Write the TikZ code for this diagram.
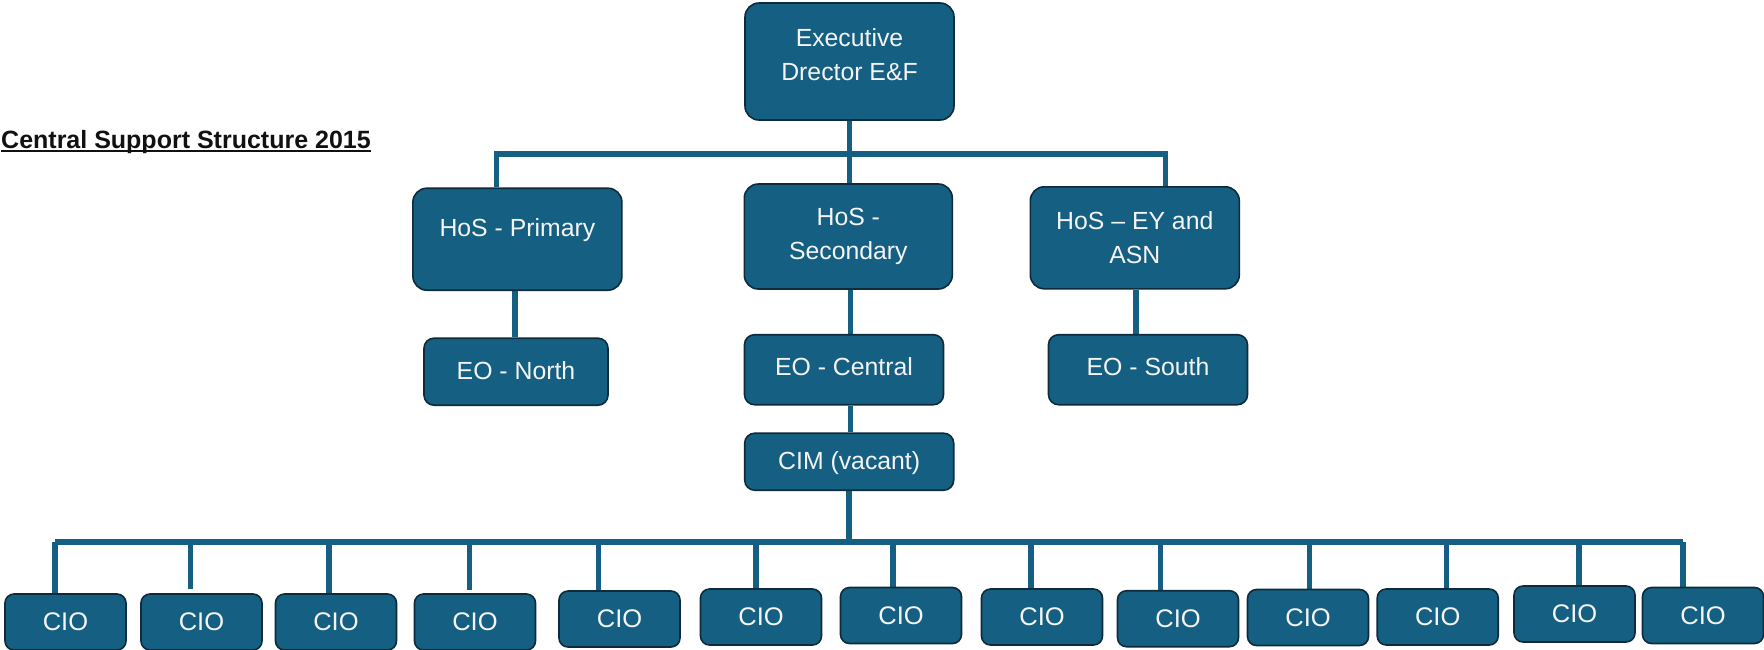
\documentclass[tikz,border=0pt]{standalone}
\usepackage{fontspec}
\setmainfont{Liberation Sans}
\usetikzlibrary{backgrounds}
\definecolor{accent}{HTML}{156082}
\definecolor{edge}{HTML}{0D2B3B}
\definecolor{paper}{HTML}{F4F4F4}
\definecolor{titleink}{HTML}{111111}
\begin{document}
\begin{tikzpicture}[x=1pt,y=-1pt,
  orgbox/.style={draw=edge, line width=1.6pt, fill=accent, rounded corners=14pt, inner sep=0pt},
  smallbox/.style={orgbox, rounded corners=10pt},
  ciobox/.style={orgbox, rounded corners=9pt, minimum width=121pt, minimum height=56pt,
    text=paper, font=\fontsize{25.5}{30}\selectfont},
  boxtext/.style={text=paper, inner sep=0pt, align=center,
    font=\fontsize{24.8}{34.5}\selectfont},
  link/.style={draw=accent, line width=5.5pt}
]
\useasboundingbox (0,0) rectangle (1764,649);

% heading
\node[anchor=base west, inner sep=0pt, text=titleink,
      font=\bfseries\fontsize{25}{30}\selectfont] (title) at (1,148.5)
      {Central Support Structure 2015};
\draw[titleink, line width=2.2pt] ([yshift=-2.8pt]title.base west) -- ([yshift=-2.8pt]title.base east);

% top level
\node[orgbox, minimum width=209pt, minimum height=117pt] (exec) at (849.5,61.5) {};
\node[boxtext] (exec-t) at ([yshift=7pt]exec.center) {Executive\\Drector E\&F};

% heads of service
\node[orgbox, minimum width=209pt, minimum height=102pt] (hosP) at (517.4,239.2) {};
\node[boxtext] (hosP-t) at ([yshift=9pt]hosP.center) {HoS - Primary};
\node[orgbox, minimum width=208pt, minimum height=105pt] (hosS) at (848.3,236.5) {};
\node[boxtext] (hosS-t) at (hosS.center) {HoS -\\Secondary};
\node[orgbox, minimum width=209pt, minimum height=102pt] (hosE) at (1134.8,237.8) {};
\node[boxtext] (hosE-t) at (hosE.center) {HoS – EY and\\ASN};

% education officers
\node[smallbox, minimum width=184pt, minimum height=67pt] (eoN) at (516,371.7) {};
\node[boxtext] (eoN-t) at ([yshift=1.5pt]eoN.center) {EO - North};
\node[smallbox, minimum width=199pt, minimum height=70pt] (eoC) at (844,369.7) {};
\node[boxtext] (eoC-t) at ([yshift=3pt]eoC.center) {EO - Central};
\node[smallbox, minimum width=199pt, minimum height=70pt] (eoS) at (1148,369.7) {};
\node[boxtext] (eoS-t) at ([yshift=3pt]eoS.center) {EO - South};

% manager
\node[smallbox, minimum width=209pt, minimum height=57pt] (cim) at (849.2,461.7) {};
\node[boxtext] (cim-t) at ([yshift=-1.5pt]cim.center) {CIM (vacant)};

% officers
\foreach \i/\cx/\cy in {1/65.5/622, 2/201.5/622, 3/336/622, 4/475/622,
    5/619.5/619, 6/761/617, 7/901/615.5, 8/1042/617, 9/1178/618.7,
    10/1308/617.5, 11/1437.7/617, 12/1574.5/614, 13/1703/615.5}
  \node[ciobox] (cio\i) at (\cx,\cy) {CIO};

% connectors
\coordinate (busA) at (0,154);
\coordinate (busB) at (0,542);
\begin{scope}[on background layer]
  \path ([xshift=-21pt]hosP.north) coordinate (pTop)
        ([xshift=30.5pt]hosE.north) coordinate (eTop);
  \draw[link] (pTop) -- (pTop |- busA) -- (eTop |- busA) -- (eTop);
  \draw[link] (exec.south) -- (exec.south |- hosS.north);
  \draw[link] ([xshift=-2.5pt]hosP.south) -- ([xshift=-2.5pt]hosP.south |- eoN.north);
  \draw[link] ([xshift=2pt]hosS.south) -- ([xshift=2pt]hosS.south |- eoC.north);
  \draw[link] ([xshift=1.4pt]cim.north |- eoC.south) -- ([xshift=1.4pt]cim.north);
  \draw[link] ([xshift=1.2pt]hosE.south) -- ([xshift=1.2pt]hosE.south |- eoS.north);
  \draw[link] (cim.south) -- (cim.south |- busB);
  \path ([xshift=-10.5pt]cio1.north) coordinate (bLeft)
        ([xshift=-20pt]cio13.north) coordinate (bRight);
  \draw[link] (bLeft |- busB) -- (bRight |- busB);
  \foreach \i/\dx/\gap in {1/-10.5/0, 2/-11/4, 3/-7/0, 4/-5.4/3, 5/-20.8/0,
      6/-5/0, 7/-8/0, 8/-11/0, 9/-17.3/0, 10/1.5/0, 11/8.8/0, 12/4.5/0, 13/-20/0}
    \draw[link] ([xshift=\dx pt, yshift=\gap pt]cio\i.north) -- ([xshift=\dx pt]cio\i.north |- busB);
\end{scope}
\end{tikzpicture}
\end{document}
